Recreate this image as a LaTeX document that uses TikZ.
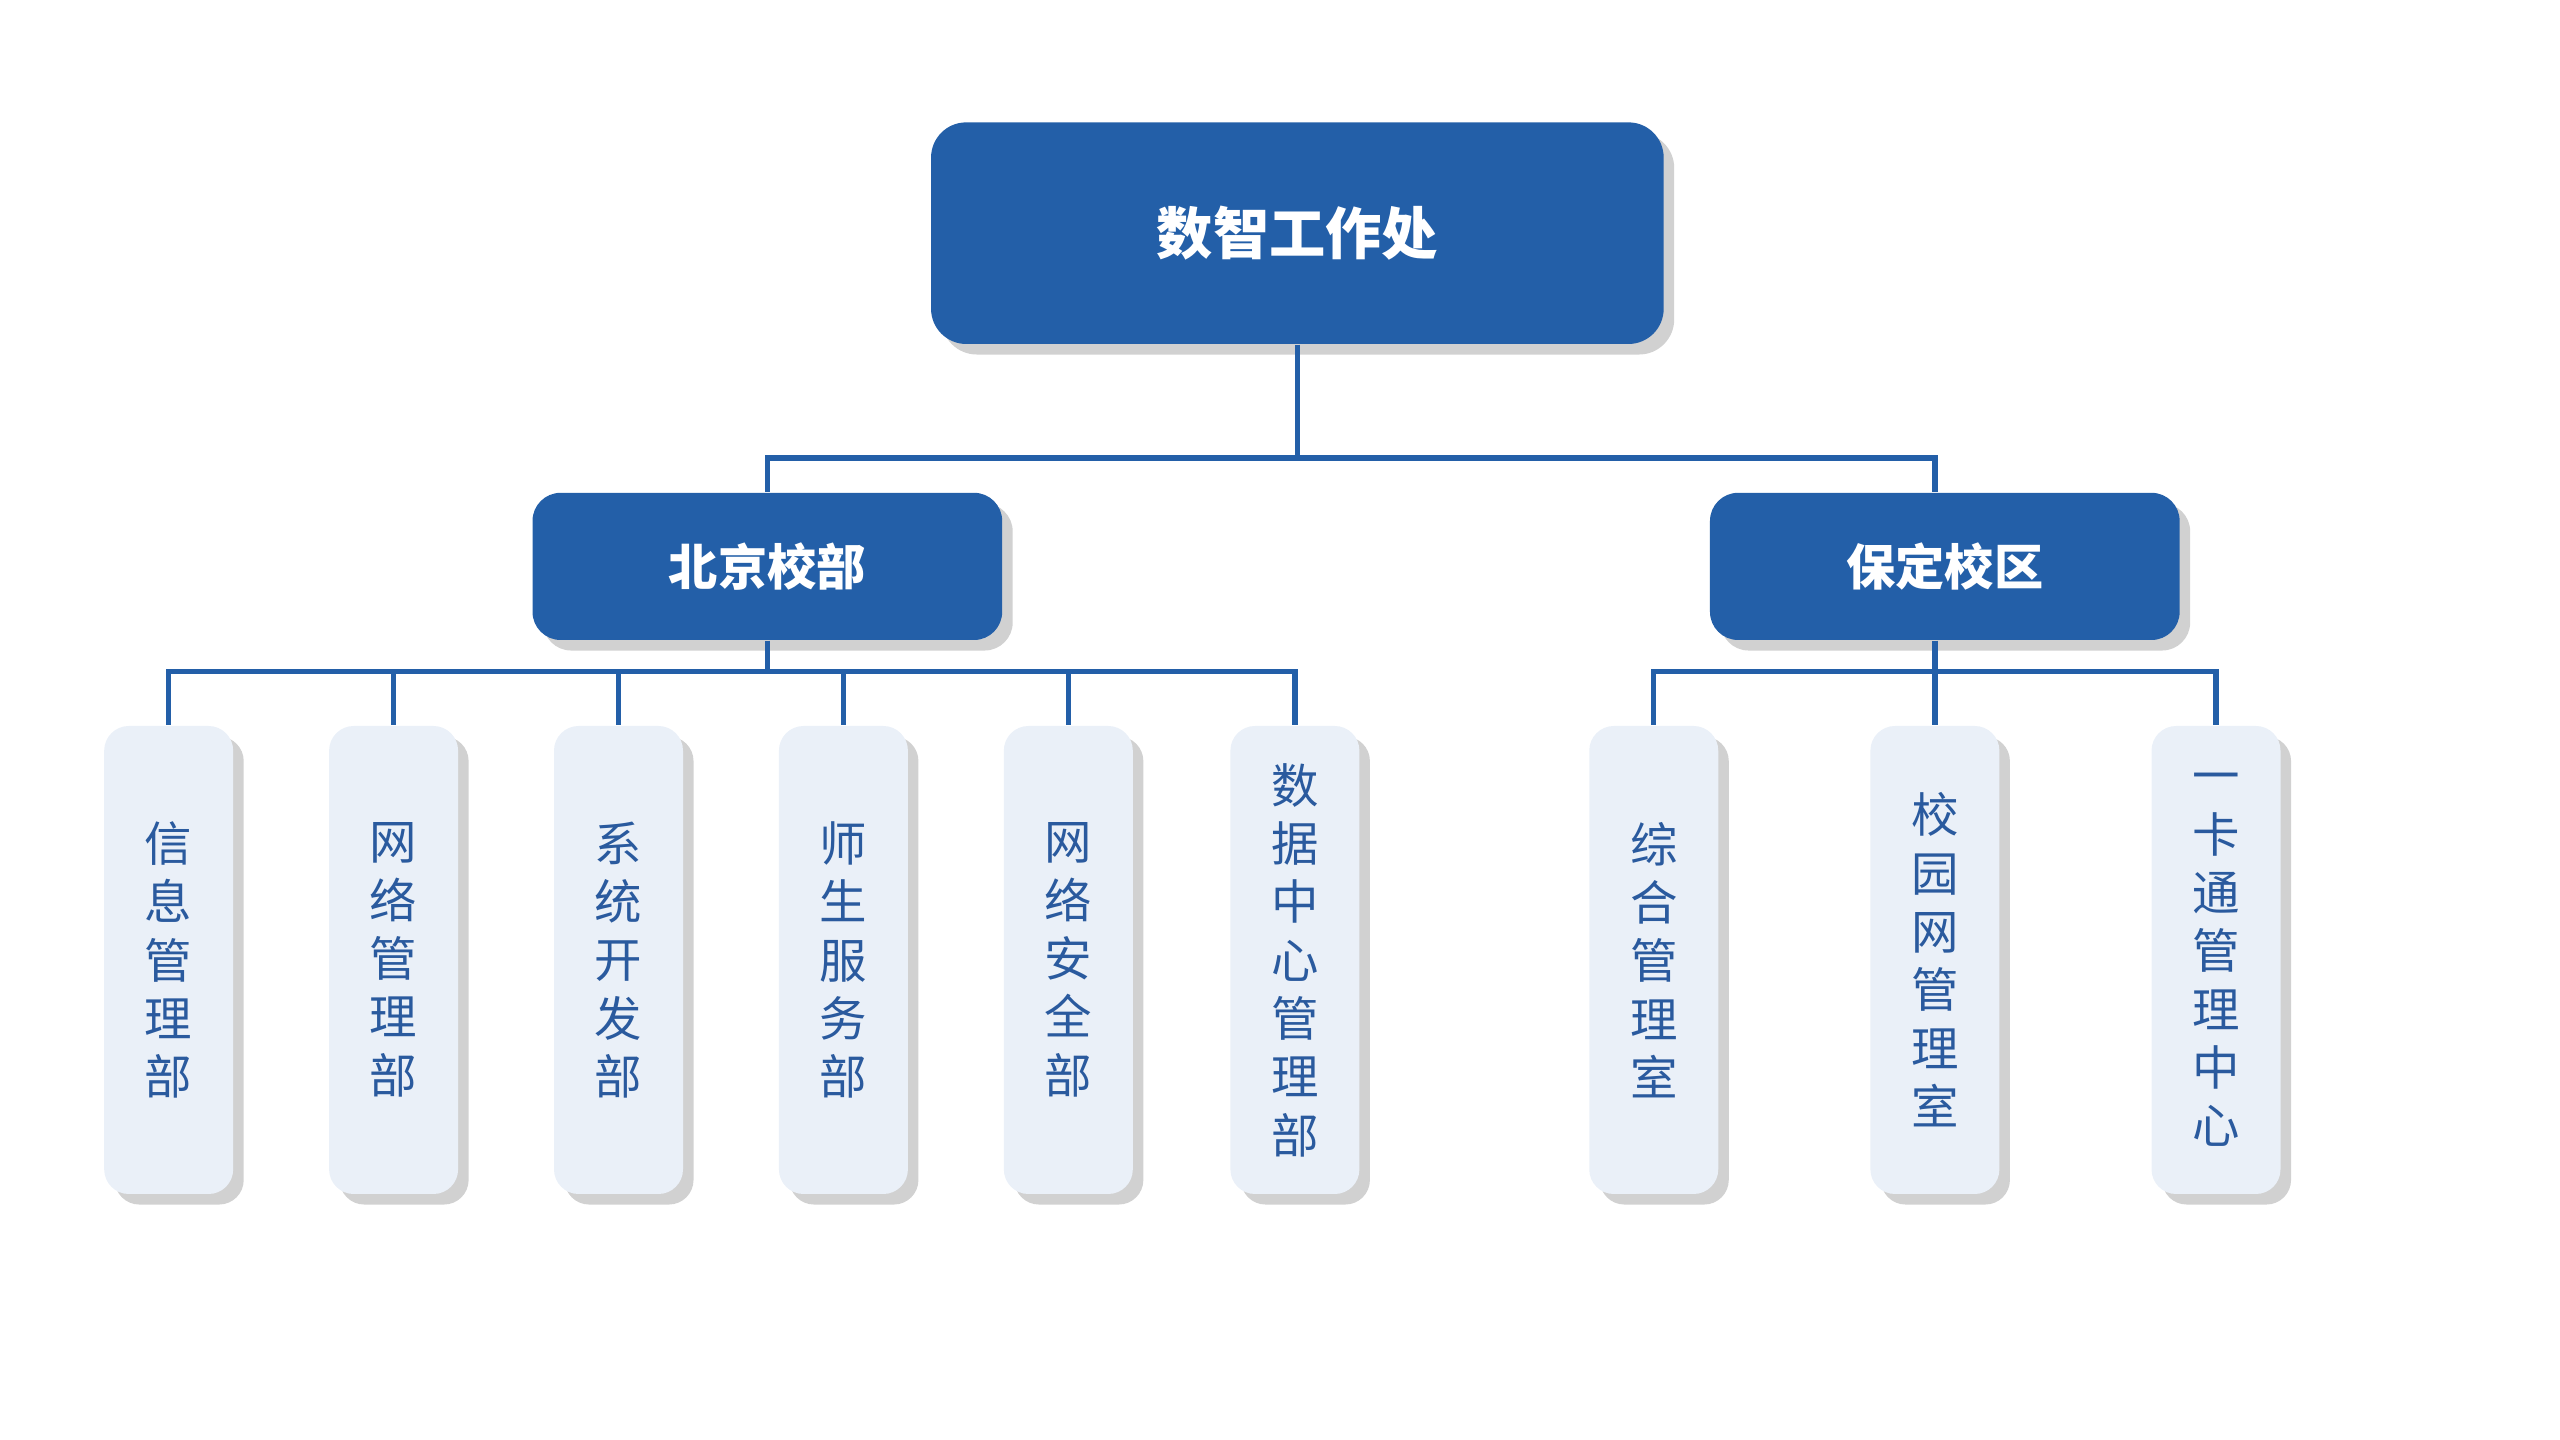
\documentclass[tikz,border=0pt]{standalone}
\usepackage{fontspec}
\newfontfamily\cjk{Noto Sans CJK SC}
\usetikzlibrary{shadows}
\definecolor{mainblue}{HTML}{235FA8}
\definecolor{leaffill}{HTML}{EAF0F8}
\definecolor{leaftext}{HTML}{2A5A9E}
\begin{document}
\begin{tikzpicture}[x=0.01654cm,y=-0.01654cm,
  boxshadow/.style={drop shadow={shadow xshift=3pt,shadow yshift=-3pt,opacity=0.3,fill=black!60}},
  top/.style={fill=mainblue,rounded corners=10pt,boxshadow,text=white,font=\cjk\bfseries\fontsize{16}{20}\selectfont,minimum width=443*0.01654cm,minimum height=134*0.01654cm,inner sep=0},
  mid/.style={fill=mainblue,rounded corners=8pt,boxshadow,text=white,font=\cjk\bfseries\fontsize{14}{18}\selectfont,minimum width=284*0.01654cm,minimum height=89*0.01654cm,inner sep=0},
  leaf/.style={fill=leaffill,rounded corners=7pt,boxshadow,text=leaftext,font=\cjk\fontsize{13.5}{16.6}\selectfont,align=center,minimum width=78*0.01654cm,minimum height=283*0.01654cm,inner sep=0},
  conn/.style={draw=mainblue,line width=1.5pt}]
\useasboundingbox (0,0) rectangle (1548,870.6);
\node[top] (root) at (784.5,141) {数智工作处};
\node[mid] (bj) at (464,342.5) {北京校部};
\node[mid] (bd) at (1176,342.5) {保定校区};
\coordinate (j1) at (784.5,277);
\draw[conn] (root.south) -- (j1);
\draw[conn] (j1) -| (bj.north);
\draw[conn] (j1) -| ([xshift=-6*0.01654cm]bd.north);
\foreach \n/\x/\t in {a/102/信\\息\\管\\理\\部, b/238/网\\络\\管\\理\\部, c/374/系\\统\\开\\发\\部, d/510/师\\生\\服\\务\\部, e/646/网\\络\\安\\全\\部, f/783/数\\据\\中\\心\\管\\理\\部}
  {\node[leaf] (\n) at (\x,580.5) {\t};}
\foreach \n/\x/\t in {g/1000/综\\合\\管\\理\\室, h/1170/校\\园\\网\\管\\理\\室, i/1340/一\\卡\\通\\管\\理\\中\\心}
  {\node[leaf] (\n) at (\x,580.5) {\t};}
\coordinate (bjb) at (464,406);
\coordinate (bdb) at (1170,406);
\draw[conn] (bj.south) -- (bjb);
\draw[conn] ([xshift=-6*0.01654cm]bd.south) -- (bdb);
\foreach \n in {a,b,c,d,e,f} {\draw[conn] (bjb) -| (\n.north);}
\foreach \n in {g,h,i} {\draw[conn] (bdb) -| (\n.north);}
\end{tikzpicture}
\end{document}
